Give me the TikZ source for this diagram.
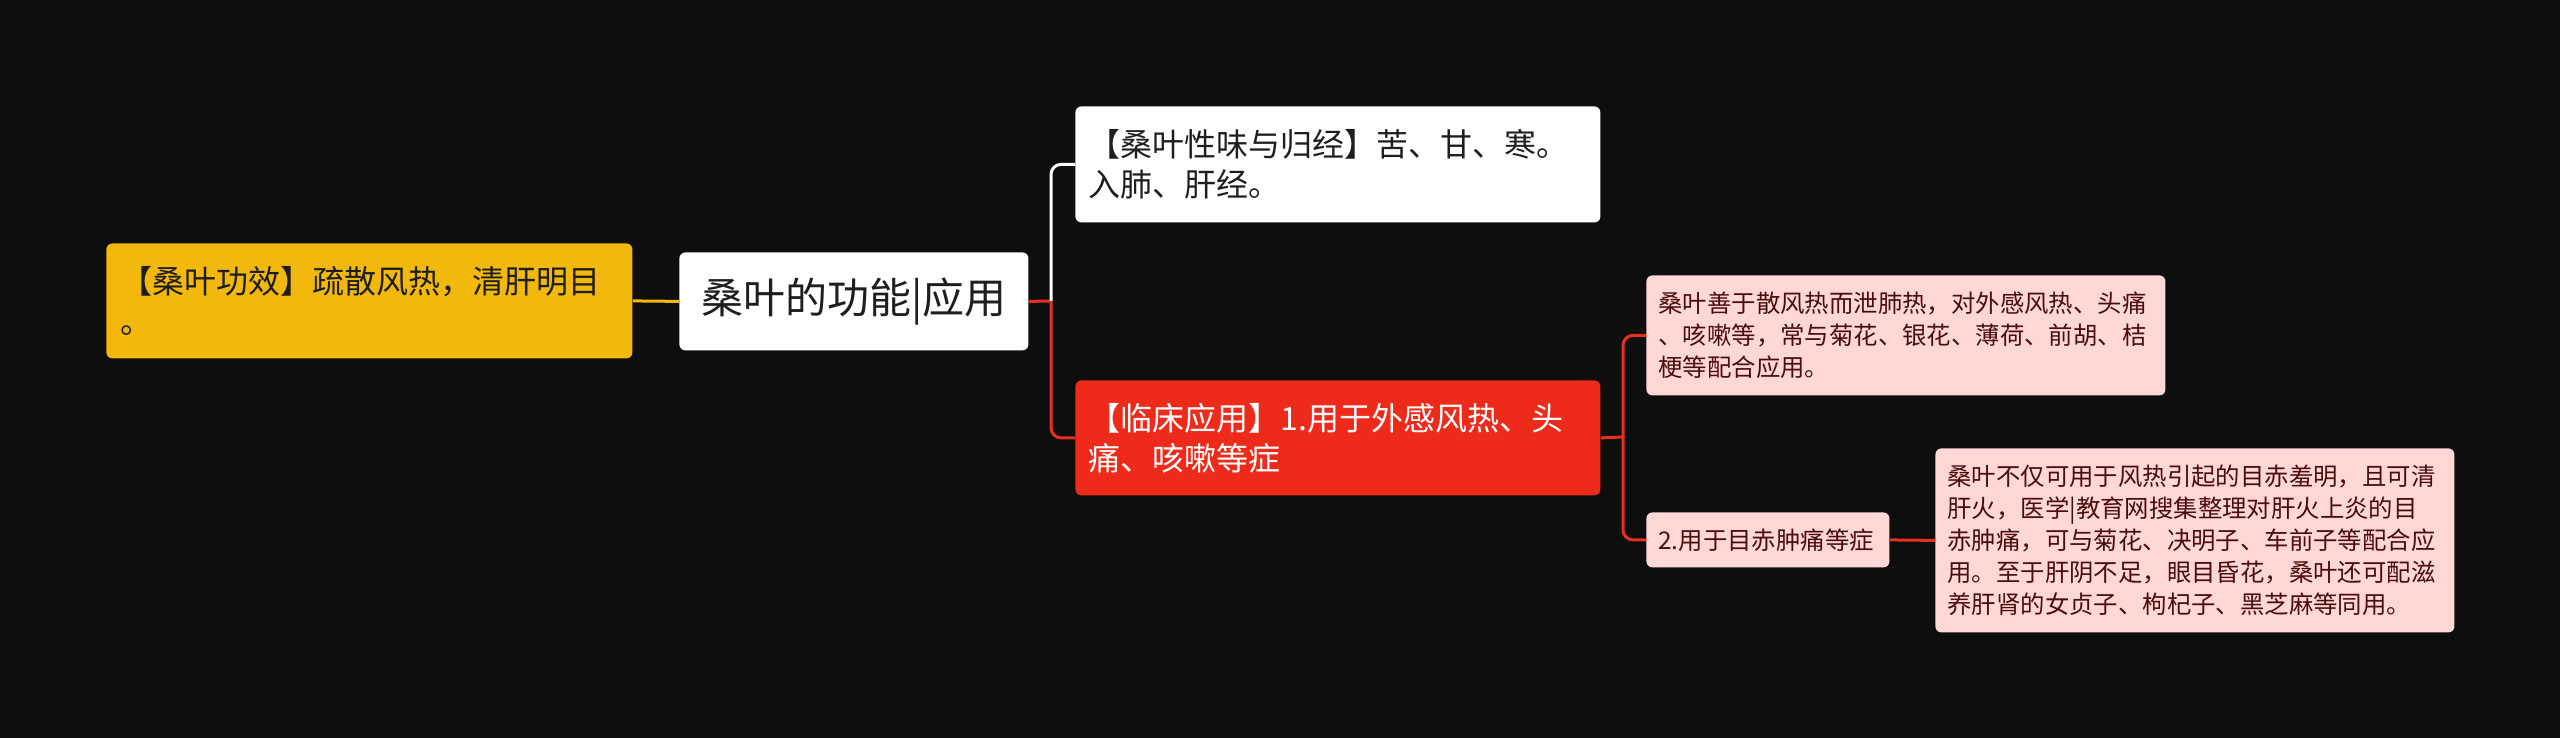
\documentclass[tikz,border=0pt]{standalone}
\usepackage{fontspec}
\setmainfont{Noto Sans CJK SC}
\definecolor{bg}{HTML}{0E0E0E}
\definecolor{ybox}{HTML}{F2B90C}
\definecolor{rbox}{HTML}{EE2A1A}
\definecolor{pbox}{HTML}{FFD8D5}
\definecolor{ptext}{HTML}{4B0C0C}
\definecolor{rline}{HTML}{E8301E}
\definecolor{dtext}{HTML}{1E1E1E}
\tikzset{
  box/.style={rounded corners=3pt, anchor=north west, align=left, inner ysep=0pt},
  bigtext/.style={font=\fontsize{16pt}{20pt}\selectfont},
  smalltext/.style={font=\fontsize{12.2pt}{16pt}\selectfont, text=ptext},
  conn/.style={line width=1.5pt, rounded corners=5pt},
}
\begin{document}
\begin{tikzpicture}[x=0.5pt, y=-0.5pt]
\fill[bg] (0,0) rectangle (2560,738);
\useasboundingbox (0,0) rectangle (2560,738);

% nodes
\node[box, bigtext, fill=ybox, text=dtext, inner xsep=7pt, text width=249pt, minimum height=57.5pt] (yel) at (106,243)
  {【桑叶功效】疏散风热，清肝明目\\。};
\node[box, fill=white, text=dtext, inner sep=0pt, minimum width=174.5pt, minimum height=49pt, align=center,
  font=\fontsize{21pt}{26pt}\selectfont] (ctr) at (679,252) {桑叶的功能|应用};
\node[box, bigtext, fill=white, text=dtext, inner xsep=6.5pt, text width=249.5pt, minimum height=58pt] (wht) at (1075,106)
  {【桑叶性味与归经】苦、甘、寒。\\入肺、肝经。};
\node[box, bigtext, fill=rbox, text=white, inner xsep=6.5pt, text width=249.5pt, minimum height=57.5pt] (red) at (1075,380)
  {【临床应用】1.用于外感风热、头\\痛、咳嗽等症};
\node[box, smalltext, fill=pbox, inner xsep=6pt, text width=247.5pt, minimum height=60pt] (p1) at (1646,275)
  {桑叶善于散风热而泄肺热，对外感风热、头痛\\、咳嗽等，常与菊花、银花、薄荷、前胡、桔\\梗等配合应用。};
\node[box, smalltext, fill=pbox, inner xsep=6pt, text width=109.5pt, minimum height=27.5pt] (p2) at (1646,512)
  {2.用于目赤肿痛等症};
\node[box, smalltext, fill=pbox, inner xsep=6pt, text width=247.5pt, minimum height=92pt] (p3) at (1935,448)
  {桑叶不仅可用于风热引起的目赤羞明，且可清\\肝火，医学|教育网搜集整理对肝火上炎的目\\赤肿痛，可与菊花、决明子、车前子等配合应\\用。至于肝阴不足，眼目昏花，桑叶还可配滋\\养肝肾的女贞子、枸杞子、黑芝麻等同用。};

% connectors
\coordinate (j1) at (1051,301);
\coordinate (j2) at (1623,437);
\draw[conn, draw=ybox] (yel.east) -- (ctr.west);
\draw[conn, draw=rline] (ctr.east) -- (j1);
\draw[conn, draw=white] (j1) |- (wht.west);
\draw[conn, draw=rline] (j1) |- (red.west);
\draw[conn, draw=rline] (red.east) -- (j2);
\draw[conn, draw=rline] (j2) |- (p1.west);
\draw[conn, draw=rline] (j2) |- (p2.west);
\draw[conn, draw=rline] (p2.east) -- (p3.west);
\end{tikzpicture}
\end{document}
